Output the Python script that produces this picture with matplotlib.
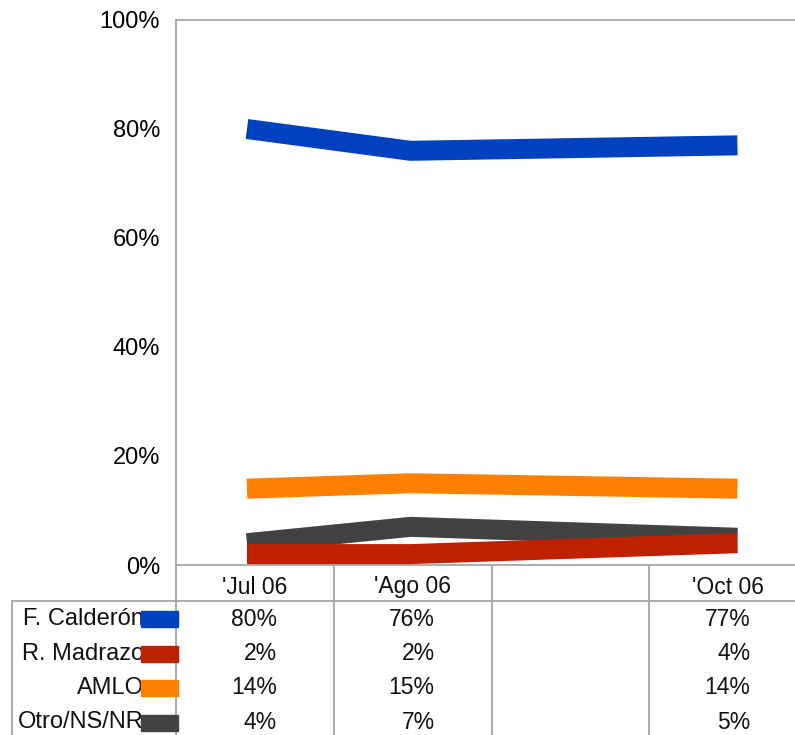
import matplotlib.pyplot as plt
from matplotlib.patches import Rectangle

plt.rcParams['font.family'] = ['Liberation Sans', 'DejaVu Sans']

# datos
meses = ["'Jul 06", "'Ago 06", "", "'Oct 06"]
posiciones = [0, 1, 3]  # indice de categoria de cada medicion (Sep sin dato)
candidatos = ['F. Calderón', 'R. Madrazo', 'AMLO', 'Otro/NS/NR']
calderon = [80, 76, 77]
madrazo = [2, 2, 4]
amlo = [14, 15, 14]
otro = [4, 7, 5]
series = [calderon, madrazo, amlo, otro]
colores = ['#0041bf', '#bf2000', '#ff8000', '#424242']
zorders = [5, 4, 3, 2]

W, H = 795, 735
gris = '#a6a6a6'

fig = plt.figure(figsize=(W / 100, H / 100), dpi=100)

# area del grafico (en pixeles: x 176-795, y 20-565)
ax = fig.add_axes([176 / W, (H - 565) / H, (W - 176) / W, (565 - 20) / H])
for vals, col, z in zip(series, colores, zorders):
    ax.plot(posiciones, vals, color=col, lw=14.4, solid_capstyle='butt',
            solid_joinstyle='miter', zorder=z)

ax.set_xlim(-0.434, 3.352)
ax.set_ylim(0, 100)
ax.set_yticks([0, 20, 40, 60, 80, 100])
ax.set_yticklabels([f'{v}%' for v in [0, 20, 40, 60, 80, 100]], fontsize=17)
ax.tick_params(axis='y', length=0, pad=11.5)
ax.set_xticks([])
for s in ['left', 'top', 'bottom']:
    ax.spines[s].set_color(gris)
    ax.spines[s].set_linewidth(1.3)
ax.spines['right'].set_visible(False)

# tabla de datos debajo
tab = fig.add_axes([0, 0, 1, 1], zorder=-1)
tab.set_xlim(0, W)
tab.set_ylim(H, 0)
tab.axis('off')

col_izq = 176
col_w = 157.75
y_head = 587
y_rows = [619, 653.5, 688, 722.5]

tab.plot([12, W], [601, 601], color=gris, lw=1.3)
tab.plot([12, 12], [601, H], color=gris, lw=1.3)
for k in range(4):
    x = col_izq + k * col_w
    tab.plot([x, x], [565, H], color=gris, lw=1.3)

for k, m in enumerate(meses):
    tab.text(col_izq + (k + 0.5) * col_w, y_head, m, ha='center', va='center',
             fontsize=16.5, color='#111111')

for i, (nombre, vals, col) in enumerate(zip(candidatos, series, colores)):
    y = y_rows[i]
    tab.text(144, y, nombre, ha='right', va='center', fontsize=17,
             color='#111111', zorder=1)
    tab.add_patch(Rectangle((141, y - 8), 37, 16, color=col, zorder=2))
    for p, v in zip(posiciones, vals):
        xc = col_izq + (p + 0.5) * col_w
        tab.text(xc + 22, y, f'{v}%', ha='right', va='center', fontsize=16.5,
                 color='#111111')

fig.savefig('out.png', dpi=100)
